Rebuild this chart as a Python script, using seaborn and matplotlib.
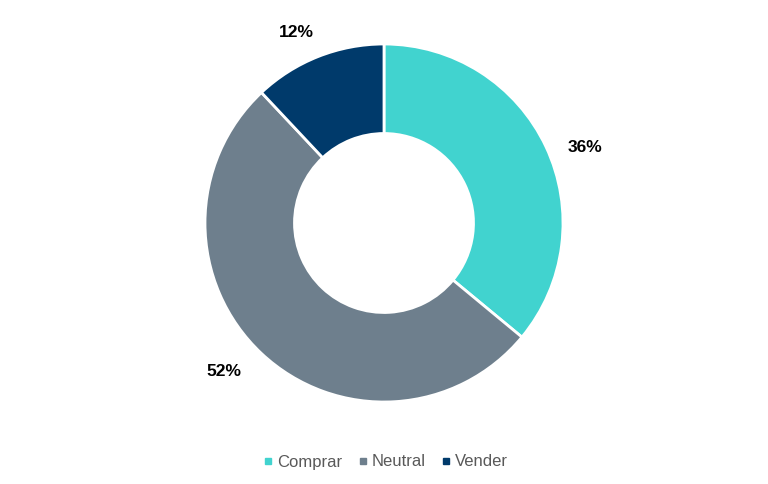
import numpy as np
import seaborn as sns
import matplotlib.pyplot as plt
from matplotlib.lines import Line2D

categories = ['Comprar', 'Neutral', 'Vender']
shares = [36, 52, 12]
colors = ['#41D3CF', '#6E7F8D', '#003A6B']

sns.set_theme(style='white')
plt.rcParams['font.family'] = ['Liberation Sans', 'DejaVu Sans']

fig = plt.figure(figsize=(7.68, 4.84), dpi=100)
# place the donut: centre (384, 223) px, outer radius 179 px
R = 179
half = R * 1.25
ax = fig.add_axes([(384 - half) / 768, (484 - 223 - half) / 484,
                   2 * half / 768, 2 * half / 484])
wedges, texts = ax.pie(
    shares, colors=colors, startangle=90, counterclock=False, radius=1,
    wedgeprops=dict(width=0.5, edgecolor='white', linewidth=2))

# outside-end labels, nudged a little like the office chart does
nudge = [-4.5, -3.8, 3.0]
dist = [1.2, 1.22, 1.17]
for w, v, dn, d in zip(wedges, shares, nudge, dist):
    ang = np.deg2rad((w.theta1 + w.theta2) / 2 + dn)
    ax.text(d * np.cos(ang), d * np.sin(ang), f'{v}%', ha='center', va='center',
            fontsize=12.5, fontweight='bold', color='black')

ax.set_xlim(-1.25, 1.25)
ax.set_ylim(-1.25, 1.25)
ax.set_aspect('equal')
ax.axis('off')

handles = [Line2D([0], [0], marker='s', linestyle='', markersize=5,
                  markerfacecolor=c, markeredgecolor=c) for c in colors]
fig.legend(handles, categories, loc='center', bbox_to_anchor=(0.5, 1 - 462 / 484),
           ncol=3, frameon=False, fontsize=12, handletextpad=0.05,
           handlelength=1.0, columnspacing=0.7, labelcolor='#595959')

fig.savefig('out.png', dpi=100)
